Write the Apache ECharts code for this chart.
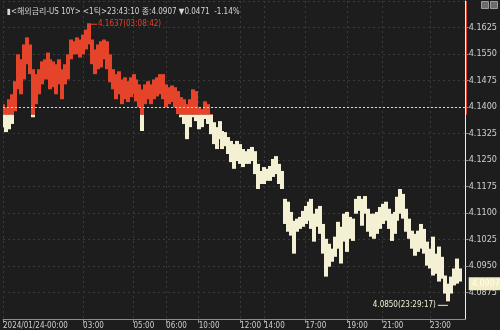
<!DOCTYPE html>
<html>
<head>
<meta charset="utf-8">
<script src="https://cdn.jsdelivr.net/npm/echarts@6/dist/echarts.min.js"></script>
<style>
html,body{margin:0;padding:0;background:#1d1d1d;}
#c{width:500px;height:330px;}
</style>
</head>
<body>
<div id="c"></div>
<script>
// ---- data ----
const BASE = 4.1378;      // previous close (dashed reference line)
const LAST = 4.0907;      // last price
const highTime = '03:08:42';
const lowTime = '23:29:17';
const titleText = '▮<해외금리-US 10Y> <1틱>23:43:10 종:4.0907 ▼0.0471  -1.14%';

const highs = [
4.1408,4.1399,4.1422,4.1436,4.1473,4.1549,4.1535,4.1577,4.1597,4.1577,
4.1507,4.1493,4.1507,4.1529,4.1535,4.1554,4.1535,4.1529,4.1521,4.1535,
4.1507,4.1521,4.1549,4.1591,4.1586,4.1597,4.1591,4.1605,4.1619,4.1637,
4.1591,4.1563,4.1577,4.1586,4.1591,4.1586,4.1549,4.1507,4.1493,4.1501,
4.1478,4.1484,4.1473,4.1484,4.1493,4.1478,4.1464,4.1450,4.1464,4.1473,
4.1464,4.1478,4.1484,4.1493,4.1493,4.1464,4.1456,4.1461,4.1456,4.1445,
4.1428,4.1422,4.1408,4.1422,4.1450,4.1445,4.1399,4.1394,4.1416,4.1408,
4.1380,4.1357,4.1343,4.1360,4.1332,4.1329,4.1315,4.1304,4.1295,4.1304,
4.1295,4.1281,4.1275,4.1281,4.1287,4.1275,4.1239,4.1219,4.1230,4.1225,
4.1233,4.1253,4.1261,4.1239,4.1219,4.1140,4.1132,4.1103,4.1078,4.1084,
4.1089,4.1106,4.1120,4.1132,4.1140,4.1098,4.1112,4.1120,4.1069,4.1027,
4.1013,4.0999,4.1033,4.1075,4.1061,4.1098,4.1103,4.1089,4.1084,4.1140,
4.1148,4.1140,4.1148,4.1112,4.1098,4.1098,4.1103,4.1117,4.1126,4.1132,
4.1112,4.1098,4.1103,4.1146,4.1168,4.1154,4.1112,4.1084,4.1050,4.1041,
4.1050,4.1069,4.1055,4.1019,4.0999,4.1033,4.0985,4.1005,4.0976,4.0923,
4.0900,4.0920,4.0943,4.0971,4.0943
];
const lows = [
4.1343,4.1329,4.1337,4.1352,4.1388,4.1450,4.1436,4.1478,4.1521,4.1493,
4.1371,4.1408,4.1436,4.1464,4.1478,4.1478,4.1450,4.1456,4.1436,4.1464,
4.1422,4.1464,4.1478,4.1535,4.1549,4.1549,4.1540,4.1549,4.1563,4.1577,
4.1521,4.1493,4.1507,4.1512,4.1535,4.1507,4.1470,4.1450,4.1422,4.1436,
4.1408,4.1422,4.1414,4.1428,4.1436,4.1416,4.1399,4.1332,4.1408,4.1422,
4.1408,4.1422,4.1430,4.1436,4.1422,4.1399,4.1408,4.1414,4.1399,4.1380,
4.1371,4.1352,4.1309,4.1343,4.1371,4.1360,4.1337,4.1343,4.1366,4.1352,
4.1323,4.1295,4.1281,4.1309,4.1281,4.1289,4.1267,4.1244,4.1225,4.1247,
4.1239,4.1230,4.1239,4.1239,4.1247,4.1210,4.1168,4.1182,4.1182,4.1191,
4.1191,4.1202,4.1210,4.1182,4.1168,4.1069,4.1047,4.1036,4.0985,4.1047,
4.1055,4.1061,4.1069,4.1078,4.1055,4.1019,4.1061,4.1041,4.0985,4.0920,
4.0948,4.0962,4.0976,4.0999,4.0957,4.1019,4.0990,4.1027,4.1021,4.1098,
4.1106,4.1064,4.1098,4.1047,4.1033,4.1027,4.1041,4.1055,4.1069,4.1078,
4.1055,4.1021,4.1041,4.1078,4.1098,4.1084,4.1047,4.1027,4.0999,4.0979,
4.0990,4.0999,4.0985,4.0951,4.0943,4.0923,4.0928,4.0906,4.0914,4.0872,
4.0850,4.0872,4.0895,4.0900,4.0906
];

const tickIndex = [0, 27, 44, 55, 66, 80, 88, 102, 116, 128, 144];
const tickText = ['2024/01/24-00:00','03:00','05:00','06:00','10:00','12:00','14:00','17:00','19:00','21:00','23:00'];

const yMin = 4.08, yMax = 4.17, yStep = 0.0075;

// ---- build ----
const RED = '#e6432b';
const CREAM = '#f3f0d4';
const NARROW = "'Liberation Sans Narrow', 'DejaVu Sans Condensed', 'Liberation Sans', sans-serif";
const categories = Array.from({length: highs.length + 2}, (_, i) => String(i));
const bars = highs.map((h, i) => [i, lows[i], h]);

let hiIdx = 0, loIdx = 0;
highs.forEach((h, i) => { if (h > highs[hiIdx]) hiIdx = i; });
lows.forEach((l, i) => { if (l < lows[loIdx]) loIdx = i; });

const isTick = (idx) => tickIndex.indexOf(Number(idx)) >= 0;

const chart = echarts.init(document.getElementById('c'), null, {renderer: 'canvas'});
chart.setOption({
  backgroundColor: '#1d1d1d',
  animation: false,
  title: {
    text: titleText,
    left: 2, top: 3,
    textStyle: {color: '#d6d6d6', fontSize: 8, fontWeight: 'normal',
      fontFamily: "'Liberation Sans Narrow', 'DejaVu Sans Condensed', 'Noto Sans CJK KR', sans-serif"}
  },
  graphic: [
    {type: 'rect', right: 11, top: 1, shape: {width: 7, height: 7}, style: {fill: '#6b6b6b', stroke: '#9a9a9a'}},
    {type: 'rect', right: 2, top: 1, shape: {width: 7, height: 7}, style: {fill: '#6b6b6b', stroke: '#9a9a9a'}}
  ],
  grid: {left: 0, right: 32, top: 1, bottom: 11, containLabel: false},
  xAxis: {
    type: 'category',
    data: categories,
    boundaryGap: false,
    axisLine: {lineStyle: {color: '#8c8c8c'}},
    axisTick: {show: true, interval: isTick, length: 4, lineStyle: {color: '#8c8c8c'}},
    axisLabel: {
      interval: isTick, align: 'left', margin: 3,
      color: '#cfcfcf', fontSize: 8, fontFamily: NARROW,
      formatter: (v) => tickText[tickIndex.indexOf(Number(v))]
    },
    splitLine: {show: true, interval: isTick, lineStyle: {color: '#3a3a3a', type: [2, 3]}}
  },
  yAxis: {
    type: 'value',
    position: 'right',
    min: yMin, max: yMax, interval: yStep,
    axisLine: {show: true, lineStyle: {color: CREAM}},
    axisTick: {show: true, length: 3, lineStyle: {color: '#8c8c8c'}},
    axisLabel: {
      showMinLabel: false, showMaxLabel: false, margin: 3,
      color: '#cfcfcf', fontSize: 9, fontFamily: NARROW,
      formatter: (v) => v.toFixed(4)
    },
    splitLine: {show: true, lineStyle: {color: '#3a3a3a', type: [2, 3]}}
  },
  series: [
    {
      type: 'custom',
      clip: true,
      data: bars,
      encode: {x: 0, y: [1, 2]},
      renderItem: (params, api) => {
        const i = api.value(0);
        const pHi = api.coord([i, api.value(2)]);
        const pLo = api.coord([i, api.value(1)]);
        const yb = api.coord([i, BASE])[1];
        const w = api.size([1, 0])[0];
        const x = Math.floor(pHi[0] - w / 2);
        const ww = Math.ceil(w) + 1;
        const yT = pHi[1], yB = Math.max(pLo[1], pHi[1] + 1);
        const ch = [];
        if (yT < yb) {
          const b = Math.min(yB, yb);
          ch.push({type: 'rect', shape: {x: x, y: yT, width: ww, height: Math.max(1, b - yT)}, style: {fill: RED}});
        }
        if (yB > yb) {
          const t = Math.max(yT, yb);
          ch.push({type: 'rect', shape: {x: x, y: t, width: ww, height: Math.max(1, yB - t)}, style: {fill: CREAM}});
        }
        return {type: 'group', children: ch};
      },
      markLine: {
        silent: true,
        symbol: ['none', 'none'],
        data: [
          {yAxis: BASE, lineStyle: {color: '#d8d8d8', type: [2, 2], width: 1}, label: {show: false}},
          {yAxis: LAST, lineStyle: {color: 'rgba(0,0,0,0)', width: 0},
            label: {show: true, position: 'end', distance: 3, formatter: LAST.toFixed(4),
              backgroundColor: '#f1edc6', color: '#fffdf0', fontSize: 9, padding: [2, 3, 2, 3],
              fontFamily: NARROW}}
        ]
      },
      markPoint: {
        silent: true,
        data: [
          {coord: [hiIdx, highs[hiIdx]], symbol: 'rect', symbolSize: [8, 1], symbolOffset: [4, 1],
            itemStyle: {color: RED},
            label: {show: true, position: 'right', distance: 1, color: RED, fontSize: 8, fontFamily: NARROW,
              formatter: highs[hiIdx].toFixed(4) + '(' + highTime + ')'}},
          {coord: [loIdx, lows[loIdx]], symbol: 'rect', symbolSize: [10, 1], symbolOffset: [-5, 4],
            itemStyle: {color: CREAM},
            label: {show: true, position: 'left', distance: 2, color: CREAM, fontSize: 8, fontFamily: NARROW,
              formatter: lows[loIdx].toFixed(4) + '(' + lowTime + ')'}}
        ]
      }
    },
    {
      type: 'custom',
      clip: false,
      silent: true,
      data: [[0, BASE]],
      encode: {x: 0, y: 1},
      renderItem: (params, api) => {
        const cs = params.coordSys;
        const yb = api.coord([0, BASE])[1];
        const xr = Math.round(cs.x + cs.width) + 0.5;
        return {type: 'line', shape: {x1: xr, y1: cs.y, x2: xr, y2: yb}, style: {stroke: RED, lineWidth: 1}, z2: 10};
      },
      z: 5
    }
  ]
});
</script>
</body>
</html>
